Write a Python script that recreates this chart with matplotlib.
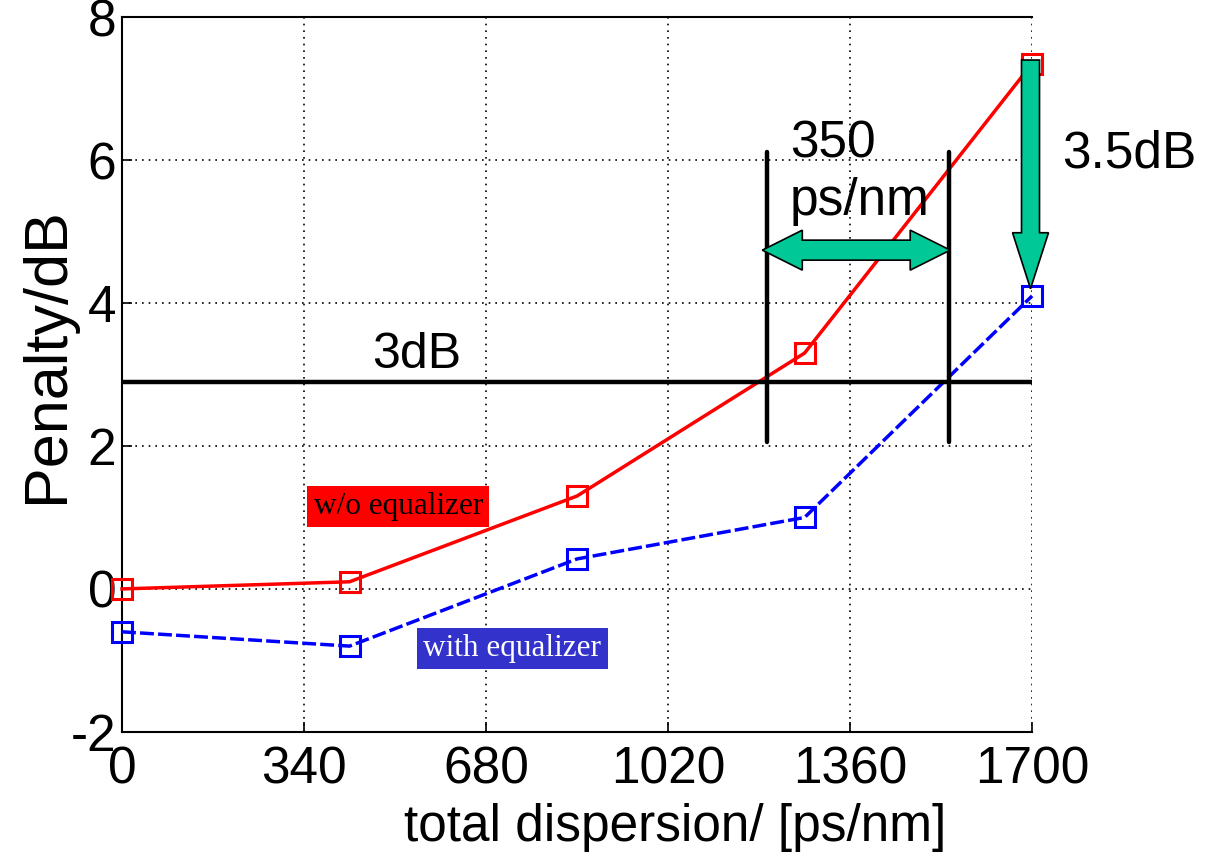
import matplotlib.pyplot as plt
from matplotlib.patches import Polygon

plt.rcParams['font.family'] = ['Liberation Sans', 'DejaVu Sans']
plt.rcParams['axes.unicode_minus'] = False

# dispersion sweep and measured penalties
dispersion = [0, 425, 850, 1275, 1700]
penalty_wo_eq = [0.0, 0.1, 1.3, 3.3, 7.35]
penalty_with_eq = [-0.6, -0.8, 0.42, 1.0, 4.1]

x_ticks = [0, 340, 680, 1020, 1360, 1700]
y_ticks = [-2, 0, 2, 4, 6, 8]

threshold_db = 2.9
tolerance_lo = 1205   # w/o equalizer crosses 3 dB
tolerance_hi = 1545   # with equalizer crosses 3 dB

GREEN = '#00C896'

fig = plt.figure(figsize=(12.2, 8.57), dpi=100)
ax = fig.add_axes([0.1, 0.146, 0.746, 0.834])

ax.plot(dispersion, penalty_wo_eq, '-', color='red', lw=2.5,
        marker='s', ms=14, mfc='none', mec='red', mew=2.2, zorder=3, clip_on=False)
ax.plot(dispersion, penalty_with_eq, '--', color='blue', lw=2.5, dashes=(4, 1.2),
        marker='s', ms=14, mfc='none', mec='blue', mew=2.2, zorder=3, clip_on=False)

ax.set_xlim(0, 1700)
ax.set_ylim(-2, 8)
ax.set_xticks(x_ticks)
ax.set_yticks(y_ticks)
ax.tick_params(direction='in', length=7, width=1.2, labelsize=37)
ax.tick_params(axis='x', pad=10)
ax.tick_params(axis='y', pad=4)
ax.grid(True, color='black', linestyle=(0, (1, 3)), lw=1.2)
ax.spines['right'].set_visible(False)
for s in ['left', 'bottom', 'top']:
    ax.spines[s].set_linewidth(1.5)

ax.set_xlabel('total dispersion/ [ps/nm]', fontsize=37)
ax.xaxis.set_label_coords(0.608, -0.1)
ax.set_ylabel('Penalty/dB', fontsize=44)
ax.yaxis.set_label_coords(-0.05, 0.527)

# 3 dB threshold and tolerance window
ax.plot([0, 1700], [threshold_db, threshold_db], color='black', lw=3.2, zorder=4)
for xv in (tolerance_lo, tolerance_hi):
    ax.plot([xv, xv], [2.05, 6.12], color='black', lw=3.2, zorder=4, solid_capstyle='round')

ax.text(467, 3.09, '3dB', fontsize=36, ha='left', va='baseline')
ax.text(1248, 6.04, '350', fontsize=37, ha='left', va='baseline')
ax.text(1248, 5.23, 'ps/nm', fontsize=37, ha='left', va='baseline')
ax.text(1756, 5.89, '3.5dB', fontsize=37, ha='left', va='baseline', clip_on=False)

# pixel -> data scale for the block arrows
px_x = ax.bbox.width / 1700.0
px_y = ax.bbox.height / 10.0


def h_double_arrow(x0, x1, y, shaft, head_w, head_len):
    sy, hy, hl = shaft / 2 / px_y, head_w / 2 / px_y, head_len / px_x
    pts = [(x0, y), (x0 + hl, y + hy), (x0 + hl, y + sy), (x1 - hl, y + sy),
           (x1 - hl, y + hy), (x1, y), (x1 - hl, y - hy), (x1 - hl, y - sy),
           (x0 + hl, y - sy), (x0 + hl, y - hy)]
    ax.add_patch(Polygon(pts, closed=True, fc=GREEN, ec='black', lw=1.2, zorder=5))


def v_down_arrow(x, y0, y1, shaft, head_w, head_len):
    sx, hx, hl = shaft / 2 / px_x, head_w / 2 / px_x, head_len / px_y
    pts = [(x - sx, y0), (x + sx, y0), (x + sx, y1 + hl), (x + hx, y1 + hl),
           (x, y1), (x - hx, y1 + hl), (x - sx, y1 + hl)]
    ax.add_patch(Polygon(pts, closed=True, fc=GREEN, ec='black', lw=1.2,
                         zorder=5, clip_on=False))


h_double_arrow(1196, 1547, 4.74, 20, 40, 40)
v_down_arrow(1697, 7.40, penalty_with_eq[-1] + 0.1, 18, 36, 56)

# series labels
ax.text(516, 1.15, 'w/o equalizer', family='Liberation Serif', fontsize=22.5,
        color='black', ha='center', va='center', zorder=6,
        bbox=dict(boxstyle='square,pad=0.2', fc='red', ec='none'))
ax.text(729, -0.83, 'with equalizer', family='Liberation Serif', fontsize=22.5,
        color='white', ha='center', va='center', zorder=6,
        bbox=dict(boxstyle='square,pad=0.2', fc='#3333CC', ec='none'))

fig.savefig('out.png', dpi=100)
